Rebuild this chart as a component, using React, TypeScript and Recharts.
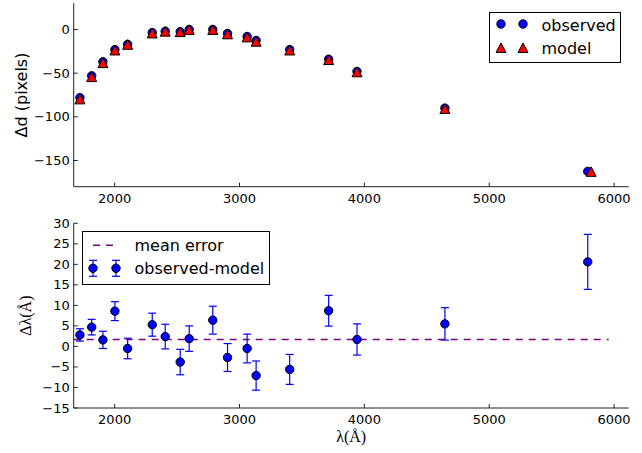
import React from 'react';
import { ScatterChart, Scatter, XAxis, YAxis, ReferenceLine, ErrorBar, Legend, Label } from 'recharts';

// ---- data ----
const obsLambda = [1722, 1816, 1906, 2002, 2104, 2301, 2405, 2525, 2597, 2786, 2904, 3061, 3133, 3402, 3714, 3941, 4645, 5789];
const obsD = [-78, -53, -37, -23, -17, -3.5, -2, -2.5, 0, 0, -4.5, -8, -12.5, -23, -34, -48, -90, -162.5];
const modelLambda = [1722, 1816, 1906, 2002, 2104, 2301, 2405, 2525, 2597, 2786, 2904, 3061, 3133, 3402, 3714, 3941, 4645, 5816];
const modelD = [-80, -54.5, -38.5, -24, -17.5, -4.5, -2.5, -3, -0.5, -0.5, -5.5, -9, -14, -24, -35, -49, -91, -163];
const residual = [2.8, 4.7, 1.6, 8.6, -0.5, 5.3, 2.4, -3.8, 1.9, 6.4, -2.7, -0.5, -7.1, -5.6, 8.7, 1.7, 5.5, 20.6];
const residualErr = [1.5, 1.9, 2.1, 2.3, 2.5, 2.8, 3.0, 3.1, 3.1, 3.4, 3.4, 3.5, 3.55, 3.65, 3.75, 3.8, 3.95, 6.7];
const meanError = 1.7;
const meanRange = [1672, 5957];

const xDomain = [1672, 6117];
const xTicks = [2000, 3000, 4000, 5000, 6000];
const topYDomain = [-180, 30];
const topYTicks = [-150, -100, -50, 0];
const botYDomain = [-15, 30];
const botYTicks = [-15, -10, -5, 0, 5, 10, 15, 20, 25, 30];

const obsData = obsLambda.map((x, i) => ({ x, y: obsD[i] }));
const modelData = modelLambda.map((x, i) => ({ x, y: modelD[i] }));
const resData = obsLambda.map((x, i) => ({ x, y: residual[i], err: residualErr[i] }));

// ---- styles ----
const AXIS = '#222';
const SANS = "'DejaVu Sans', sans-serif";
const SERIF = "'Liberation Serif', 'DejaVu Serif', serif";
const BLUE = '#0000ff';
const RED = '#ff0000';
const PURPLE = '#800080';

const fmt = (v: number) => String(v).replace('-', '\u2212');

const BottomTick = (p: any) => (
  <g>
    <line x1={p.x} x2={p.x} y1={p.y} y2={p.y - 4} stroke={AXIS} />
    <text x={p.x} y={p.y + 16} textAnchor="middle" fontSize={13} fontFamily={SANS} fill="#000">
      {fmt(p.payload.value)}
    </text>
  </g>
);
const TopTick = (p: any) => (
  <line x1={p.x} x2={p.x} y1={p.y} y2={p.y + 4} stroke={AXIS} />
);
const LeftTick = (p: any) => (
  <g>
    <line x1={p.x} x2={p.x + 4} y1={p.y} y2={p.y} stroke={AXIS} />
    <text x={p.x - 4} y={p.y + 4.5} textAnchor="end" fontSize={13} fontFamily={SANS} fill="#000">
      {fmt(p.payload.value)}
    </text>
  </g>
);
const RightTick = (p: any) => (
  <line x1={p.x} x2={p.x - 4} y1={p.y} y2={p.y} stroke={AXIS} />
);

const Circle = (p: any) => (
  <circle cx={p.cx} cy={p.cy} r={4.2} fill={BLUE} stroke="#000" strokeWidth={1} />
);
const Triangle = (p: any) => (
  <path
    d={`M${p.cx},${p.cy - 5} L${p.cx + 5},${p.cy + 4.5} L${p.cx - 5},${p.cy + 4.5} Z`}
    fill={RED}
    stroke="#000"
    strokeWidth={1}
  />
);

const TopLegend = () => (
  <svg width={133} height={52} style={{ display: 'block' }}>
    <rect x={0.5} y={0.5} width={131} height={50} fill="#fff" stroke="#000" />
    <circle cx={12} cy={12} r={4.2} fill={BLUE} stroke="#000" />
    <circle cx={34} cy={12} r={4.2} fill={BLUE} stroke="#000" />
    <text x={52.5} y={18.5} fontSize={16} fontFamily={SANS} fill="#000">observed</text>
    <path d="M12,31 L17,40.5 L7,40.5 Z" fill={RED} stroke="#000" />
    <path d="M34,31 L39,40.5 L29,40.5 Z" fill={RED} stroke="#000" />
    <text x={52.5} y={41.5} fontSize={16} fontFamily={SANS} fill="#000">model</text>
  </svg>
);

const BottomLegend = () => (
  <svg width={189} height={55} style={{ display: 'block' }}>
    <rect x={0.5} y={0.5} width={187} height={53} fill="#fff" stroke="#000" />
    <line x1={11} x2={32} y1={14.3} y2={14.3} stroke={PURPLE} strokeWidth={1.5} strokeDasharray="7 6" />
    <text x={52.5} y={20} fontSize={16} fontFamily={SANS} fill="#000">mean error</text>
    {[11, 34].map((cx) => (
      <g key={cx}>
        <line x1={cx} x2={cx} y1={29.3} y2={45.3} stroke={BLUE} strokeWidth={1.2} />
        <line x1={cx - 4} x2={cx + 4} y1={29.3} y2={29.3} stroke={BLUE} strokeWidth={1.2} />
        <line x1={cx - 4} x2={cx + 4} y1={45.3} y2={45.3} stroke={BLUE} strokeWidth={1.2} />
        <circle cx={cx} cy={37.3} r={4.2} fill={BLUE} stroke="#000" />
      </g>
    ))}
    <text x={52.5} y={43.3} fontSize={16} fontFamily={SANS} fill="#000">observed-model</text>
  </svg>
);

const axisCommon = {
  tickSize: 0,
  tickMargin: 0,
  interval: 0 as const,
  axisLine: { stroke: AXIS, strokeWidth: 1 },
  tickLine: false,
  allowDataOverflow: true,
};

export default function App() {
  return (
    <div style={{ position: 'absolute', left: 0, top: 0, width: 642, height: 453, background: '#fff' }}>
      <div style={{ position: 'absolute', left: 0, top: 0 }}>
        <ScatterChart width={642} height={210} margin={{ top: 3.3, right: 13.3, bottom: 0, left: 0 }}>
          <XAxis xAxisId="b" type="number" dataKey="x" domain={xDomain} ticks={xTicks} orientation="bottom" height={23.3} tick={BottomTick} {...axisCommon} />
          <XAxis xAxisId="t" type="number" dataKey="x" domain={xDomain} ticks={xTicks} orientation="top" height={0} tick={TopTick} {...axisCommon} />
          <YAxis yAxisId="l" type="number" dataKey="y" domain={topYDomain} ticks={topYTicks} orientation="left" width={73.7} tick={LeftTick} {...axisCommon}>
            <Label
              content={(p: any) => {
                const vb = p.viewBox || { y: 3.3, height: 183.4 };
                const cy = vb.y + vb.height / 2;
                return (
                  <text x={21} y={cy} transform={`rotate(-90, 21, ${cy})`} textAnchor="middle" dominantBaseline="central" fontSize={16} fontFamily={SANS} fill="#000">
                    Δd (pixels)
                  </text>
                );
              }}
            />
          </YAxis>
          <YAxis yAxisId="r" type="number" dataKey="y" domain={topYDomain} ticks={topYTicks} orientation="right" width={0} tick={RightTick} {...axisCommon} />
          <Scatter name="observed" data={obsData} xAxisId="b" yAxisId="l" shape={Circle} isAnimationActive={false} />
          <Scatter name="model" data={modelData} xAxisId="b" yAxisId="l" shape={Triangle} isAnimationActive={false} />
          <Legend
            layout="horizontal"
            verticalAlign="middle"
            align="center"
            content={() => <TopLegend />}
            wrapperStyle={{ left: 489, top: 12, width: 133, height: 52 }}
          />
        </ScatterChart>
      </div>
      <div style={{ position: 'absolute', left: 0, top: 210 }}>
        <ScatterChart width={642} height={243} margin={{ top: 13.3, right: 13.3, bottom: 0, left: 0 }}>
          <XAxis xAxisId="b" type="number" dataKey="x" domain={xDomain} ticks={xTicks} orientation="bottom" height={45} tick={BottomTick} {...axisCommon}>
            <Label
              content={(p: any) => {
                const vb = p.viewBox || { x: 73.7, width: 555 };
                const cx = vb.x + vb.width / 2;
                return (
                  <text x={cx} y={232} textAnchor="middle" fontSize={16} fontFamily={SERIF} fill="#000">
                    λ(Å)
                  </text>
                );
              }}
            />
          </XAxis>
          <XAxis xAxisId="t" type="number" dataKey="x" domain={xDomain} ticks={xTicks} orientation="top" height={0} tick={TopTick} {...axisCommon} />
          <YAxis yAxisId="l" type="number" dataKey="y" domain={botYDomain} ticks={botYTicks} orientation="left" width={73.7} tick={LeftTick} {...axisCommon}>
            <Label
              content={(p: any) => {
                const vb = p.viewBox || { y: 13.3, height: 184.7 };
                const cy = vb.y + vb.height / 2;
                return (
                  <text x={26} y={cy} transform={`rotate(-90, 26, ${cy})`} textAnchor="middle" dominantBaseline="central" fontSize={16} fontFamily={SERIF} fill="#000">
                    Δλ(Å)
                  </text>
                );
              }}
            />
          </YAxis>
          <YAxis yAxisId="r" type="number" dataKey="y" domain={botYDomain} ticks={botYTicks} orientation="right" width={0} tick={RightTick} {...axisCommon} />
          <ReferenceLine
            xAxisId="b"
            yAxisId="l"
            segment={[{ x: meanRange[0], y: meanError }, { x: meanRange[1], y: meanError }]}
            stroke={PURPLE}
            strokeWidth={1.5}
            strokeDasharray="7 6"
            ifOverflow="visible"
          />
          <Scatter name="observed-model" data={resData} xAxisId="b" yAxisId="l" shape={Circle} isAnimationActive={false}>
            <ErrorBar dataKey="err" direction="y" width={4} stroke={BLUE} strokeWidth={1.2} isAnimationActive={false} />
          </Scatter>
          <Legend
            layout="horizontal"
            verticalAlign="middle"
            align="center"
            content={() => <BottomLegend />}
            wrapperStyle={{ left: 81.5, top: 21, width: 189, height: 55 }}
          />
        </ScatterChart>
      </div>
    </div>
  );
}
